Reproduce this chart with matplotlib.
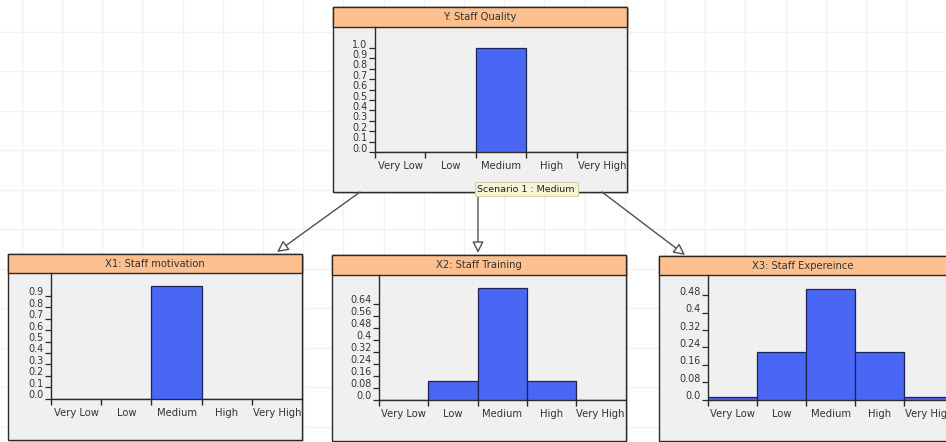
import numpy as np
import matplotlib
matplotlib.use("Agg")
import matplotlib.pyplot as plt
from matplotlib.patches import Rectangle, FancyArrowPatch
from matplotlib.transforms import ScaledTranslation

# ---------------- data ----------------
categories = ["Very Low", "Low", "Medium", "High", "Very High"]

y_title = "Y: Staff Quality"
y_values = [0.0, 0.0, 1.0, 0.0, 0.0]
y_ticks = [0.0, 0.1, 0.2, 0.3, 0.4, 0.5, 0.6, 0.7, 0.8, 0.9, 1.0]
y_ticklabels = ["0.0", "0.1", "0.2", "0.3", "0.4", "0.5", "0.6", "0.7", "0.8", "0.9", "1.0"]

x1_title = "X1: Staff motivation"
x1_values = [0.0, 0.0, 0.99, 0.0, 0.0]
x1_ticks = [0.0, 0.1, 0.2, 0.3, 0.4, 0.5, 0.6, 0.7, 0.8, 0.9]
x1_ticklabels = ["0.0", "0.1", "0.2", "0.3", "0.4", "0.5", "0.6", "0.7", "0.8", "0.9"]

x2_title = "X2: Staff Training"
x2_values = [0.0, 0.125, 0.745, 0.125, 0.0]
x2_ticks = [0.0, 0.08, 0.16, 0.24, 0.32, 0.40, 0.48, 0.56, 0.64]
x2_ticklabels = ["0.0", "0.08", "0.16", "0.24", "0.32", "0.4", "0.48", "0.56", "0.64"]

x3_title = "X3: Staff Expereince"
x3_values = [0.01, 0.22, 0.51, 0.22, 0.01]
x3_ticks = [0.0, 0.08, 0.16, 0.24, 0.32, 0.40, 0.48]
x3_ticklabels = ["0.0", "0.08", "0.16", "0.24", "0.32", "0.4", "0.48"]

scenario_label = "Scenario 1 : Medium"

# ---------------- style / layout ----------------
W, H = 946, 442
DPI = 100
HEADER = "#fdc08e"
BOXBG = "#f0f0f0"
EDGE = "#2a2a2a"
BAR = "#4a66f5"
BAREDGE = "#1c2450"
TXT = "#333333"
FS = 7.2
FSY = 6.9

fig = plt.figure(figsize=(W / DPI, H / DPI), dpi=DPI)
bg = fig.add_axes([0, 0, 1, 1])
bg.set_xlim(0, W)
bg.set_ylim(H, 0)
bg.axis("off")
bg.set_zorder(0)

# background grid
for gx in np.arange(21.7, W, 40.2):
    bg.plot([gx, gx], [0, H], color="#f2f2f2", lw=1.0, zorder=0)
for gy in np.arange(31.7, H, 39.5):
    bg.plot([0, W], [gy, gy], color="#f2f2f2", lw=1.0, zorder=0)

# panel layout in pixel coords:
# box (x0, x1, y0, y1), header bottom, axes (left, right, top, bottom), category spacing
panels = [
    dict(title=y_title, vals=y_values, ticks=y_ticks, tl=y_ticklabels,
         box=(333, 627, 7, 192), hb=27, ax=(375, 627, 27, 152), sp=50.4),
    dict(title=x1_title, vals=x1_values, ticks=x1_ticks, tl=x1_ticklabels,
         box=(8, 302, 254, 440), hb=273, ax=(51, 302, 273, 398.5), sp=50.2),
    dict(title=x2_title, vals=x2_values, ticks=x2_ticks, tl=x2_ticklabels,
         box=(332, 626, 255, 441), hb=275, ax=(379, 626, 275, 399.5), sp=49.25),
    dict(title=x3_title, vals=x3_values, ticks=x3_ticks, tl=x3_ticklabels,
         box=(659, 955, 256, 441), hb=275, ax=(708, 946, 275, 399.5), sp=49.1),
]
yscale_px = [104.0, 114.0, 150.0, 217.0]  # pixels per unit on each value axis

for p, ppu in zip(panels, yscale_px):
    x0, x1, y0, y1 = p["box"]
    bg.add_patch(Rectangle((x0 + 2, y0 + 2), x1 - x0, y1 - y0, fc="#d4d4d4",
                           ec="none", zorder=1))
    bg.add_patch(Rectangle((x0, y0), x1 - x0, y1 - y0, fc=BOXBG, ec=EDGE,
                           lw=1.0, zorder=2))
    bg.add_patch(Rectangle((x0, y0), x1 - x0, p["hb"] - y0, fc=HEADER, ec=EDGE,
                           lw=1.0, zorder=3))
    tx = (x0 + x1) / 2 if x1 <= W else (x0 + x1) / 2 - 4
    bg.text(tx, (y0 + p["hb"]) / 2 + 0.5, p["title"], ha="center", va="center",
            fontsize=FS, color=TXT, zorder=4)

    L, R, T, B = p["ax"]
    ax = fig.add_axes([L / W, (H - B) / H, (R - L) / W, (B - T) / H])
    ax.set_zorder(2)
    ax.patch.set_alpha(0)
    ax.bar(np.arange(len(categories)), p["vals"], width=1.0, align="edge",
           color=BAR, edgecolor=BAREDGE, linewidth=0.9, zorder=3, clip_on=True)
    ax.set_xlim(0, (R - L) / p["sp"])
    ax.set_ylim(0, (B - T) / ppu)
    for s in ["top", "right"]:
        ax.spines[s].set_visible(False)
    for s in ["left", "bottom"]:
        ax.spines[s].set_color(EDGE)
        ax.spines[s].set_linewidth(1.0)
    ax.set_xticks(np.arange(len(categories)))
    ax.set_xticklabels([])
    ax.set_xticks(np.arange(len(categories)) + 0.5, minor=True)
    ax.set_xticklabels(categories, minor=True, fontsize=FS, color=TXT)
    ax.tick_params(axis="x", which="major", direction="out", length=4,
                   width=1.0, color=EDGE)
    ax.tick_params(axis="x", which="minor", length=0, pad=6.5)
    ax.set_yticks(p["ticks"])
    ax.set_yticklabels(p["tl"], fontsize=FSY, color=TXT)
    ax.tick_params(axis="y", direction="out", length=4, width=0.9, color=EDGE,
                   pad=1.5)
    off = ScaledTranslation(0, 4.5 / DPI, fig.dpi_scale_trans)
    for lab in ax.get_yticklabels():
        lab.set_transform(lab.get_transform() + off)

# arrows
arrows = [((360, 192), (277, 252)), ((478, 192), (478, 253)), ((602, 192), (685, 255))]
for (sx, sy), (ex, ey) in arrows:
    a = FancyArrowPatch((sx, sy), (ex, ey), arrowstyle="-|>", mutation_scale=17,
                        fc="white", ec="#505050", lw=1.0, shrinkA=0, shrinkB=0,
                        zorder=5)
    bg.add_patch(a)

# scenario tooltip
bg.add_patch(Rectangle((475, 182), 103, 14, fc="#f7f3d6", ec="#d8d0a8", lw=0.8,
                       zorder=6))
bg.text(477, 189.5, scenario_label, ha="left", va="center", fontsize=FS - 0.4,
        color="#222222", zorder=7)

fig.savefig("out.png", dpi=DPI)
